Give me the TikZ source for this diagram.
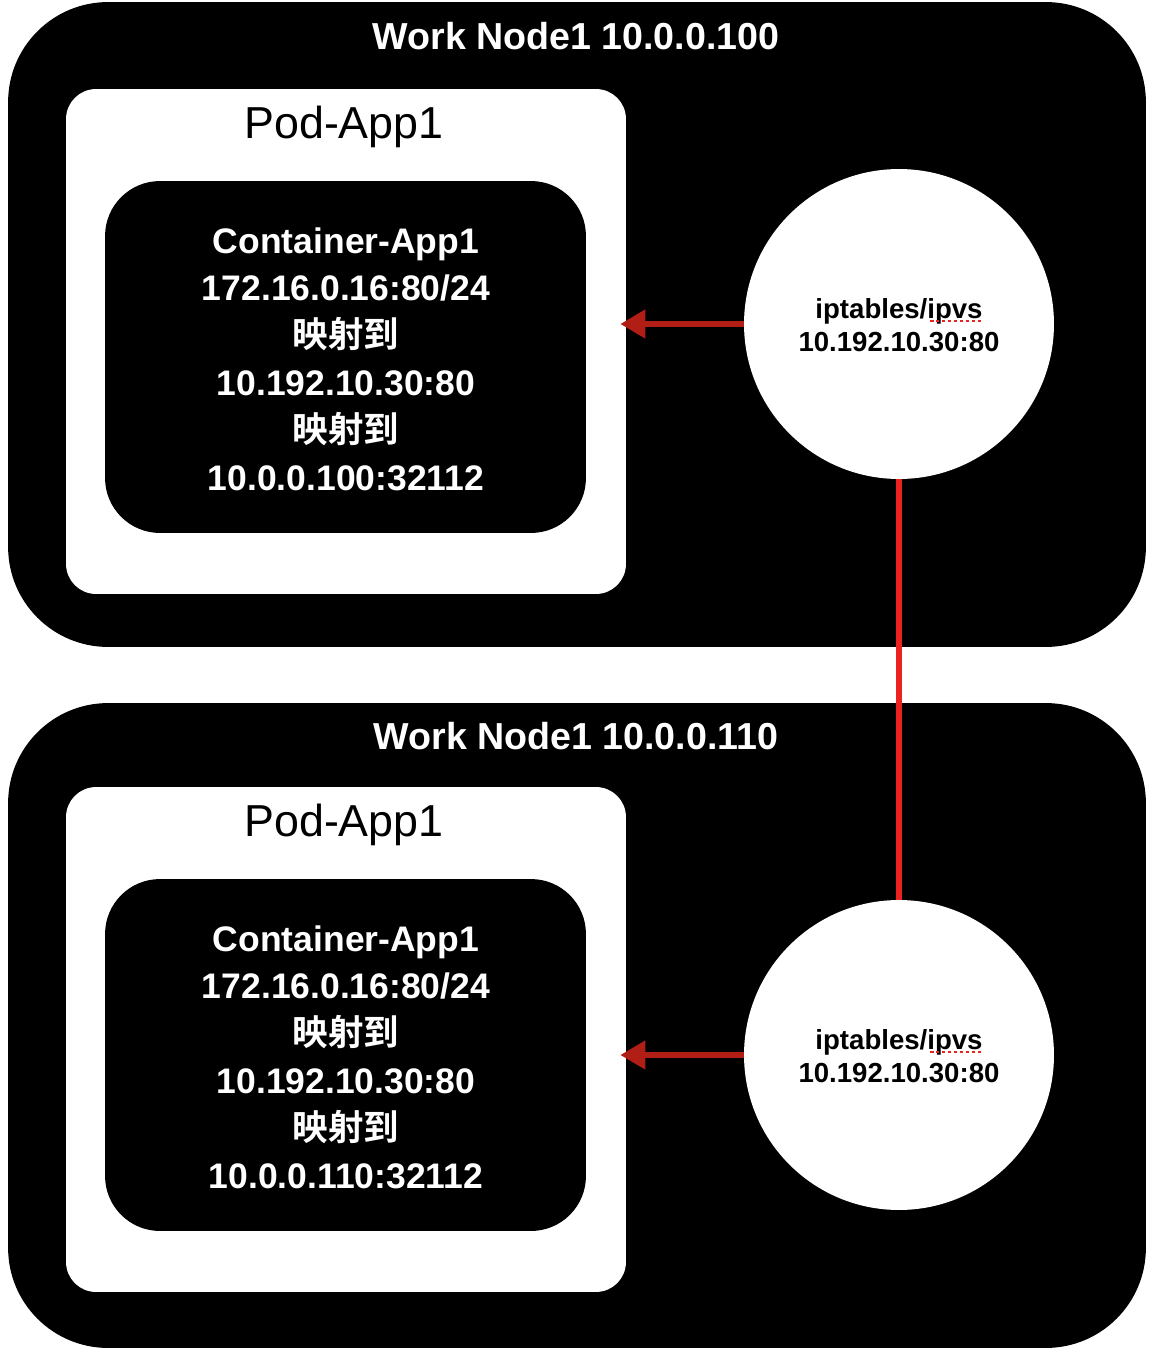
\documentclass[tikz,border=0pt]{standalone}
\usepackage{fontspec}
\setmainfont{Liberation Sans}
\newfontfamily\cjk{Noto Sans CJK SC}[BoldFont={Noto Sans CJK SC Bold}]
\usepackage{tikz}
\usetikzlibrary{calc}
\usetikzlibrary{positioning}
\usetikzlibrary{arrows.meta}

\definecolor{arrowred}{HTML}{B01E16}
\definecolor{linkred}{HTML}{EA2320}

\tikzset{
  worknode/.style={fill=black, rounded corners=2cm, minimum width=22.76cm, minimum height=12.9cm, inner sep=0},
  podbox/.style={fill=white, rounded corners=0.6cm, minimum width=11.2cm, minimum height=10.1cm, inner sep=0},
  ctrbox/.style={fill=black, rounded corners=1.1cm, minimum width=9.62cm, minimum height=7.04cm, inner sep=0},
  ipvsnode/.style={circle, fill=white, minimum size=6.2cm, inner sep=0},
  titletext/.style={text=white, font=\fontsize{21.4}{24}\selectfont\bfseries},
  podtext/.style={text=black, font=\fontsize{25.5}{30}\selectfont},
  ctrtext/.style={text=white, align=center, font=\fontsize{20.2}{27}\selectfont\bfseries},
  ipvstext/.style={text=black, align=center, font=\fontsize{15.7}{18.7}\selectfont\bfseries},
  spellmark/.style={linkred, line width=1.6pt, dash pattern=on 2pt off 1.4pt},
}

\begin{document}
\begin{tikzpicture}[x=0.02cm,y=-0.02cm]
\useasboundingbox[fill=white] (0,0) rectangle (1156,1356);

% node 1
\node[worknode] (node1) at (577,324.5) {};
\node[titletext] (title1) at (576,36) {Work Node1 10.0.0.100};
\node[podbox] (pod1) at (346,341.5) {};
\node[podtext] (podlabel1) at (344,127) {Pod-App1};
\node[ctrbox] (ctr1) at (345.5,357) {};
\node[ctrtext] (ctrlabel1) at (346,359) {Container-App1\\172.16.0.16:80/24\\{\cjk 映射到}\\10.192.10.30:80\\{\cjk 映射到}\\10.0.0.100:32112};
\node[ipvsnode] (ipvs1) at (899,324) {};
\node[ipvstext] (ipvslabel1) at (899,325) {iptables/ipvs\\10.192.10.30:80};

% node 2
\node[worknode] (node2) at (577,1025.5) {};
\node[titletext] (title2) at (576,736) {Work Node1 10.0.0.110};
\node[podbox] (pod2) at (346,1039.5) {};
\node[podtext] (podlabel2) at (344,825) {Pod-App1};
\node[ctrbox] (ctr2) at (345.5,1055) {};
\node[ctrtext] (ctrlabel2) at (346,1057) {Container-App1\\172.16.0.16:80/24\\{\cjk 映射到}\\10.192.10.30:80\\{\cjk 映射到}\\10.0.0.110:32112};
\node[ipvsnode] (ipvs2) at (899,1055) {};
\node[ipvstext] (ipvslabel2) at (899,1056) {iptables/ipvs\\10.192.10.30:80};

% spell marks
\draw[spellmark] ($(ipvs1)+(31,-3)$) -- ++(53,0);
\draw[spellmark] ($(ipvs2)+(31,-3)$) -- ++(53,0);

% links
\draw[linkred, line width=3.4pt] (ipvs1.south) -- (ipvs2.north);
\draw[arrowred, line width=3.4pt, -{Triangle[length=0.5cm,width=0.55cm]}] (ipvs1.west) -- ([xshift=-0.12cm]ipvs1.west -| pod1.east);
\draw[arrowred, line width=3.4pt, -{Triangle[length=0.5cm,width=0.55cm]}] (ipvs2.west) -- ([xshift=-0.12cm]ipvs2.west -| pod2.east);

\end{tikzpicture}
\end{document}
